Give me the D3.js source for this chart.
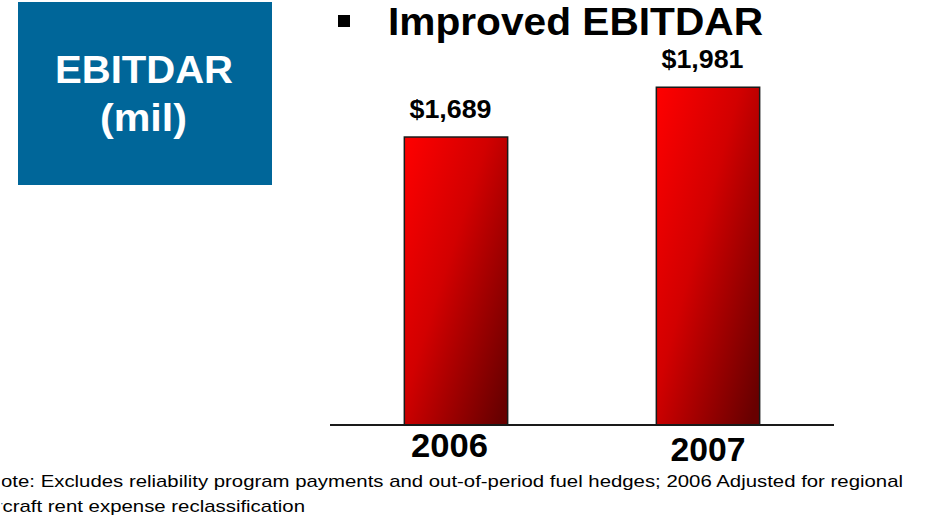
<!DOCTYPE html>
<html>
<head>
<meta charset="utf-8">
<script src="https://cdn.jsdelivr.net/npm/d3@7"></script>
<style>
  html, body { margin: 0; padding: 0; background: #fff; }
  svg { display: block; }
  text { font-family: "Liberation Sans", Arial, sans-serif; }
</style>
</head>
<body>
<svg id="chart" width="926" height="519"></svg>
<script>
// EBITDAR, millions of dollars
const years = ["2006", "2007"];
const ebitdar = [1689, 1981];
const valueLabels = ["$1,689", "$1,981"];
const yTicks = [0, 2000];
const footnoteLines = [
  "Note: Excludes reliability program payments and out-of-period fuel hedges; 2006 Adjusted for regional",
  "aircraft rent expense reclassification"
];

const svg = d3.select("#chart");

// stretch a text horizontally so its glyphs run from x0 to x1
function fitSpan(sel, x0, x1) {
  sel.each(function () {
    this.setAttribute("text-anchor", "start");
    this.setAttribute("x", x0);
    this.setAttribute("textLength", x1 - x0);
    this.setAttribute("lengthAdjust", "spacingAndGlyphs");
  });
}

// stretch a text so that character `first` starts at x0 and the last
// character ends at x1; anything before `first` runs off the left edge
function fitClipped(node, first, x0, x1) {
  const n = node.textContent.length;
  node.setAttribute("x", 0);
  let len = node.getComputedTextLength();
  for (let k = 0; k < 3; k++) {
    node.setAttribute("textLength", len);
    node.setAttribute("lengthAdjust", "spacingAndGlyphs");
    const a = node.getStartPositionOfChar(first).x;
    const b = node.getEndPositionOfChar(n - 1).x;
    len = len * (x1 - x0) / (b - a);
  }
  node.setAttribute("textLength", len);
  const a = node.getStartPositionOfChar(first).x;
  node.setAttribute("x", x0 - a);
}

// gradient used for the bar fill
const defs = svg.append("defs");
const grad = defs.append("linearGradient")
  .attr("id", "barFill")
  .attr("x1", 0).attr("y1", 0).attr("x2", 1).attr("y2", 0.9);
grad.append("stop").attr("offset", "0%").attr("stop-color", "#ff0000");
grad.append("stop").attr("offset", "45%").attr("stop-color", "#d20000");
grad.append("stop").attr("offset", "100%").attr("stop-color", "#680000");

// left margin cut for the footnote
defs.append("clipPath").attr("id", "footClip")
  .append("rect")
  .attr("x", 1.5).attr("y", 460).attr("width", 930).attr("height", 60);

// header box
svg.append("rect")
  .attr("x", 18).attr("y", 2).attr("width", 254).attr("height", 183)
  .attr("fill", "#006699");
svg.append("text")
  .attr("y", 83)
  .attr("font-size", 39).attr("font-weight", "bold").attr("fill", "#fff")
  .text("EBITDAR")
  .call(fitSpan, 55, 233);
svg.append("text")
  .attr("y", 131)
  .attr("font-size", 39).attr("font-weight", "bold").attr("fill", "#fff")
  .text("(mil)")
  .call(fitSpan, 100, 187);

// title with square bullet
svg.append("rect")
  .attr("x", 338).attr("y", 15).attr("width", 12).attr("height", 12)
  .attr("fill", "#000");
svg.append("text")
  .attr("y", 35)
  .attr("font-size", 38).attr("font-weight", "bold").attr("fill", "#000")
  .text("Improved EBITDAR")
  .call(fitSpan, 388, 763);

// scales
const x = d3.scaleBand()
  .domain(years)
  .range([330, 834])
  .paddingInner(0.59)
  .paddingOuter(0.295);

const y = d3.scaleLinear()
  .domain(d3.extent(yTicks))
  .range([425, 84]);

const data = years.map((yr, i) => ({ year: yr, value: ebitdar[i], label: valueLabels[i] }));

// bars
svg.append("g").selectAll("rect")
  .data(data)
  .join("rect")
  .attr("x", d => x(d.year))
  .attr("y", d => y(d.value))
  .attr("width", x.bandwidth())
  .attr("height", d => y(0) - y(d.value))
  .attr("fill", "url(#barFill)")
  .attr("stroke", "#1a1a1a")
  .attr("stroke-width", 1.5);

// value labels above bars, sitting slightly left of the bar centre
svg.append("g").selectAll("text")
  .data(data)
  .join("text")
  .attr("y", d => y(d.value) - 19.5)
  .attr("font-size", 26).attr("font-weight", "bold").attr("fill", "#000")
  .text(d => d.label)
  .each(function (d) {
    const c = x(d.year) + x.bandwidth() / 2 - 5.5;
    d3.select(this).call(fitSpan, c - 41, c + 41);
  });

// baseline and category axis
const xAxis = d3.axisBottom(x).tickSize(0).tickPadding(0);
const axisG = svg.append("g")
  .attr("transform", `translate(0,${y(0)})`)
  .call(xAxis);
axisG.select(".domain")
  .attr("d", `M${x.range()[0]},0H${x.range()[1]}`)
  .attr("stroke", "#1a1a1a")
  .attr("stroke-width", 2);
axisG.selectAll(".tick text")
  .attr("font-family", "'Liberation Sans', Arial, sans-serif")
  .attr("font-size", 33).attr("font-weight", "bold").attr("fill", "#000")
  .attr("dy", null)
  .attr("y", (d, i) => i === 0 ? 32 : 36)
  .each(function (d, i) {
    // tick group is translated to the band centre
    const shift = i === 0 ? -6.5 : 0;
    const half = i === 0 ? 38.5 : 37.5;
    d3.select(this).call(fitSpan, shift - half, shift + half);
  });

// footnote (starts past the left edge)
const foot = svg.append("g")
  .attr("clip-path", "url(#footClip)")
  .selectAll("text")
  .data(footnoteLines)
  .join("text")
  .attr("y", (d, i) => 487 + i * 25)
  .attr("font-size", 17).attr("fill", "#000")
  .text(d => d);
fitClipped(foot.nodes()[0], 1, 1, 903);
fitClipped(foot.nodes()[1], 3, 2.5, 305);
</script>
</body>
</html>
